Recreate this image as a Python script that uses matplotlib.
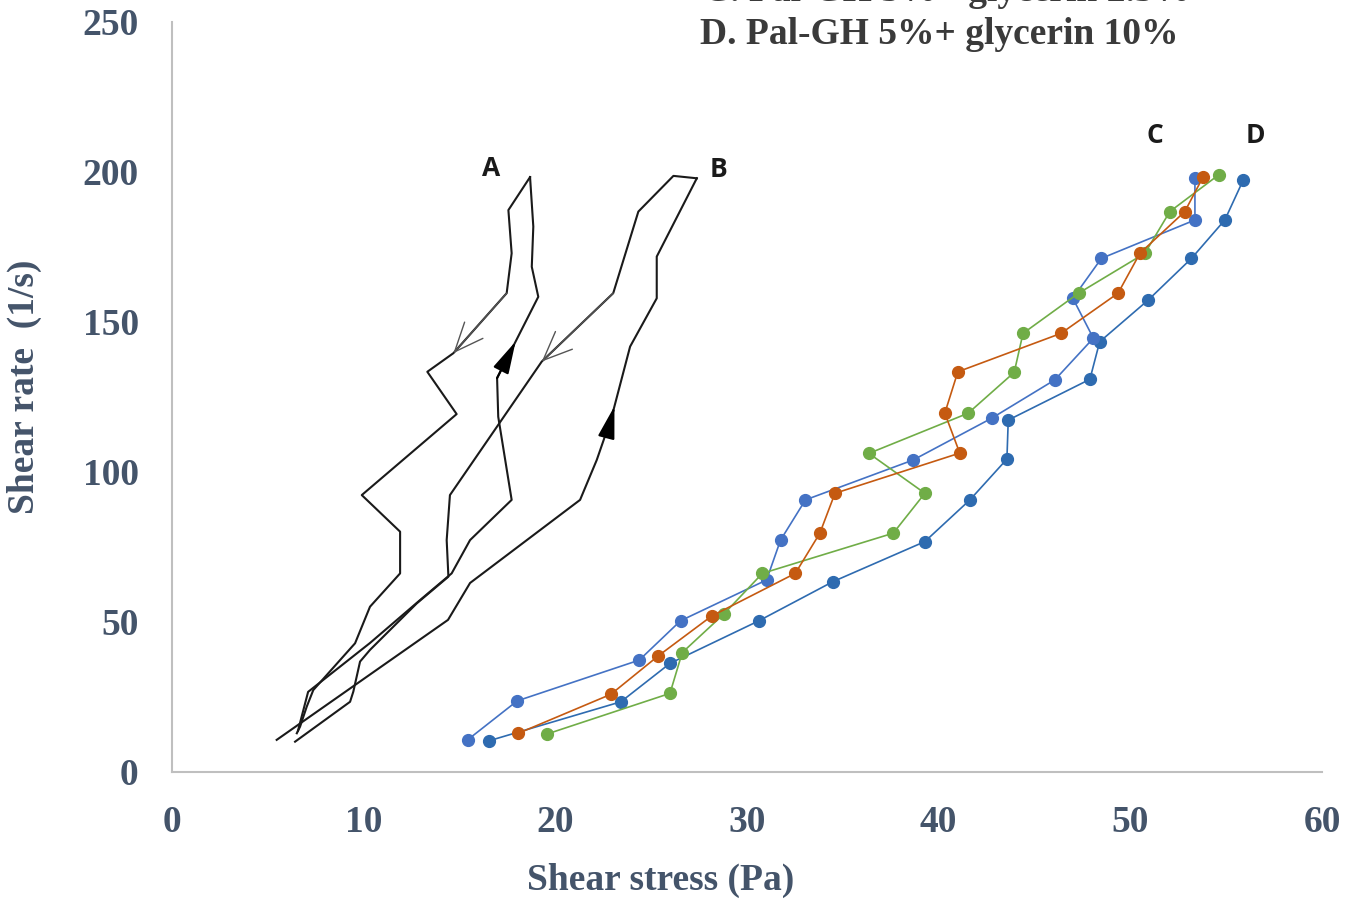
import matplotlib.pyplot as plt

# --- hand drawn loops (A, B) ---
a_up_x = [6.57, 7.10, 10.33, 12.94, 14.59, 15.55, 17.72, 17.02, 16.96, 19.11, 18.77, 18.85, 18.68]
a_up_y = [13.7, 26.7, 43.0, 57.3, 66.2, 77.3, 90.7, 118.4, 131.3, 158.4, 168.4, 181.8, 198.3]
a_down_x = [18.68, 17.55, 17.72, 17.46, 14.68, 13.32, 14.85, 9.90, 11.90, 11.90, 10.33, 9.55, 7.37, 7.03, 6.68, 6.51]
a_down_y = [198.3, 187.3, 172.9, 159.6, 139.6, 133.4, 119.3, 92.3, 80.1, 66.2, 55.1, 42.9, 27.3, 21.8, 15.1, 12.9]

b_up_x = [5.46, 14.40, 15.55, 21.29, 22.16, 22.94, 23.90, 25.29, 25.29, 27.38]
b_up_y = [10.7, 50.7, 63.0, 90.7, 104.0, 118.4, 141.8, 157.9, 171.8, 197.9]
b_down_x = [27.38, 26.16, 24.33, 23.02, 19.29, 14.50, 14.33, 14.42, 12.77, 10.33, 9.81, 9.46, 9.29, 6.42]
b_down_y = [197.9, 198.7, 186.8, 159.6, 136.8, 92.3, 77.3, 65.1, 56.2, 40.7, 36.8, 26.8, 23.4, 10.1]

# --- measured series (C, D) ---
d1_x = [15.42, 18.01, 24.38, 26.53, 31.02, 31.75, 33.05, 38.67, 42.76, 46.06, 48.07, 47.00, 48.49, 53.37, 53.37]
d1_y = [10.7, 23.7, 37.3, 50.4, 64.0, 77.3, 90.7, 104.0, 117.9, 130.7, 144.6, 157.9, 171.2, 184.0, 197.9]
d2_x = [16.54, 23.42, 25.98, 30.62, 34.47, 39.28, 41.63, 43.56, 43.63, 47.89, 48.40, 50.93, 53.19, 54.93, 55.89]
d2_y = [10.4, 23.4, 36.2, 50.4, 63.4, 76.8, 90.7, 104.3, 117.3, 130.9, 143.4, 157.3, 171.2, 184.0, 197.3]
c1_x = [18.07, 22.90, 25.37, 28.16, 32.52, 33.80, 34.59, 41.10, 40.32, 41.00, 46.38, 49.36, 50.50, 52.84, 53.80]
c1_y = [12.9, 25.9, 38.7, 52.0, 66.2, 79.6, 92.9, 106.3, 119.6, 133.4, 146.2, 159.6, 172.9, 186.8, 198.4]
c2_x = [19.54, 25.98, 26.62, 28.80, 30.80, 37.63, 39.28, 36.36, 41.54, 43.94, 44.40, 47.30, 50.76, 52.06, 54.60]
c2_y = [12.6, 26.2, 39.8, 52.7, 66.2, 79.6, 92.9, 106.2, 119.6, 133.2, 146.2, 159.6, 172.9, 186.8, 199.0]

legend_lines = ['C. Pal-GH 5%+ glycerin 2.5%', 'D. Pal-GH 5%+ glycerin 10%']
curve_labels = ['A', 'B', 'C', 'D']
label_x = [16.64, 28.49, 51.29, 56.50]
label_y = [201.3, 200.7, 212.3, 212.3]

xticks = [0, 10, 20, 30, 40, 50, 60]
yticks = [0, 50, 100, 150, 200, 250]

TXT = '#44546A'
SERIF = ['Liberation Serif', 'DejaVu Serif']

fig = plt.figure(figsize=(13.45, 9.01), dpi=100)
ax = fig.add_axes([0.1279, 0.1432, 0.8550, 0.8324])

# colored series
ax.plot(d2_x, d2_y, '-o', color='#2E6BB0', lw=1.2, ms=8.5, mec='#2E6BB0', zorder=3)
ax.plot(d1_x, d1_y, '-o', color='#4472C4', lw=1.2, ms=8.5, mec='#4472C4', zorder=3)
ax.plot(c2_x, c2_y, '-o', color='#70AD47', lw=1.2, ms=8.5, mec='#70AD47', zorder=4)
ax.plot(c1_x, c1_y, '-o', color='#C55A11', lw=1.2, ms=8.5, mec='#C55A11', zorder=5)

# black loops
for xs, ys in [(a_up_x, a_up_y), (a_down_x, a_down_y), (b_up_x, b_up_y), (b_down_x, b_down_y)]:
    ax.plot(xs, ys, color='#1a1a1a', lw=1.5, zorder=2)


def arrow_on(xs, ys, i, frac, style, ms, lw, col):
    x0, y0 = xs[i - 1], ys[i - 1]
    x1, y1 = xs[i], ys[i]
    tip = (x0 + (x1 - x0) * frac, y0 + (y1 - y0) * frac)
    ax.annotate('', xy=tip, xytext=(x0, y0),
                arrowprops=dict(arrowstyle=style, color=col, lw=lw,
                                mutation_scale=ms, shrinkA=0, shrinkB=0), zorder=6)


# filled arrows on the rising branches, open ones on the falling branches
arrow_on(a_up_x, a_up_y, 9, 0.45, '-|>,head_length=1.0,head_width=0.26', 20, 1.5, 'black')
arrow_on(b_up_x, b_up_y, 6, 0.15, '-|>,head_length=1.0,head_width=0.26', 20, 1.5, 'black')
arrow_on(a_down_x, a_down_y, 4, 1.0, '->,head_length=1.3,head_width=0.55', 16, 1.0, '#555555')
arrow_on(b_down_x, b_down_y, 4, 1.0, '->,head_length=1.3,head_width=0.55', 16, 1.0, '#555555')

for lab, lx, ly in zip(curve_labels, label_x, label_y):
    ax.text(lx, ly, lab, fontsize=19, fontweight='bold', family=['Open Sans', 'DejaVu Sans'],
            color='#1a1a1a', ha='center', va='center')

ax.set_xlim(0, 60)
ax.set_ylim(0, 250)
ax.set_xticks(xticks)
ax.set_yticks(yticks)
for s in ['top', 'right']:
    ax.spines[s].set_visible(False)
for s in ['left', 'bottom']:
    ax.spines[s].set_color('#BFBFBF')
    ax.spines[s].set_linewidth(1.5)
ax.tick_params(length=0, pad=24, labelsize=27, labelcolor=TXT)
for t in ax.get_xticklabels() + ax.get_yticklabels():
    t.set_family(SERIF)
    t.set_fontweight('bold')

ax.set_xlabel('Shear stress (Pa)', fontsize=27, fontweight='bold', family=SERIF, color=TXT)
ax.set_ylabel('Shear rate  (1/s)', fontsize=27, fontweight='bold', family=SERIF, color=TXT)
ax.xaxis.set_label_coords(0.4252, -0.121)
ax.yaxis.set_label_coords(-0.113, 0.513)

# legend text at the top, first line cut by the edge
fig.text(703 / 1345, 1 + 9 / 901, legend_lines[0], fontsize=27, fontweight='bold',
         family=SERIF, color='#3A3A3A', ha='left', va='center')
fig.text(700 / 1345, 1 - 35 / 901, legend_lines[1], fontsize=27, fontweight='bold',
         family=SERIF, color='#3A3A3A', ha='left', va='center')

fig.savefig('out.png', dpi=100)
